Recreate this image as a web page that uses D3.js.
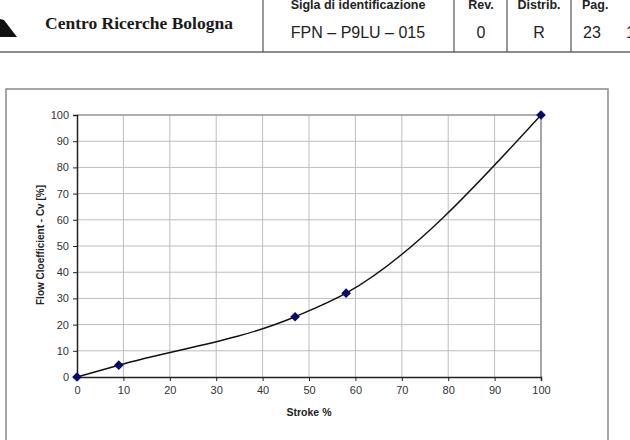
<!DOCTYPE html>
<html>
<head>
<meta charset="utf-8">
<script src="https://cdn.jsdelivr.net/npm/d3@7"></script>
<style>
  body { margin: 0; background: #fff; }
  svg { display: block; }
</style>
</head>
<body>
<svg id="chart" width="630" height="440"></svg>
<script>
// measured points of the valve curve
var strokePct = [0, 9, 47, 58, 100]
var cvPct = [0, 4.5, 23, 32, 100]

// axis ticks
var xTicks = [0, 10, 20, 30, 40, 50, 60, 70, 80, 90, 100]
var yTicks = [0, 10, 20, 30, 40, 50, 60, 70, 80, 90, 100]

// header cells
var headLabels = ["Sigla di identificazione", "Rev.", "Distrib.", "Pag."]
var headValues = ["FPN \u2013 P9LU \u2013 015", "0", "R", "23"]
var headCentres = [358, 481, 539, 0]

var svg = d3.select("#chart")

// page header
svg.append("polygon")
    .attr("points", "0,19 4,20 17,37 0,37")
    .attr("fill", "#111")

svg.append("text")
    .attr("x", 45).attr("y", 29)
    .style("font-family", "'Liberation Serif', 'Times New Roman', serif")
    .style("font-weight", "bold")
    .style("font-size", "17.5px")
    .attr("fill", "#1a1a1a")
    .text("Centro Ricerche Bologna")

svg.append("line")
    .attr("x1", 0).attr("x2", 630).attr("y1", 52).attr("y2", 52)
    .attr("stroke", "#666").attr("stroke-width", 1.5)

;[263, 454, 507, 571].forEach(function(x){
    svg.append("line")
        .attr("x1", x).attr("x2", x).attr("y1", 0).attr("y2", 52)
        .attr("stroke", "#555").attr("stroke-width", 1.2)
})

headLabels.forEach(function(t, i){
    var last = i == headLabels.length - 1
    // labels sit at the top edge, cut off as in the scanned page
    svg.append("text")
        .attr("x", last ? 582 : headCentres[i]).attr("y", 9)
        .attr("text-anchor", last ? "start" : "middle")
        .style("font-family", "'Liberation Sans', Arial, sans-serif")
        .style("font-weight", "bold")
        .style("font-size", "12.5px")
        .attr("fill", "#222")
        .text(t)
    svg.append("text")
        .attr("x", last ? 583 : headCentres[i]).attr("y", 38)
        .attr("text-anchor", last ? "start" : "middle")
        .style("font-family", "'Liberation Sans', Arial, sans-serif")
        .style("font-size", "16px")
        .attr("fill", "#222")
        .text(headValues[i])
})
svg.append("text")
    .attr("x", 626).attr("y", 38)
    .style("font-family", "'Liberation Sans', Arial, sans-serif")
    .style("font-size", "16px")
    .attr("fill", "#222")
    .text("1")

// chart frame
svg.append("rect")
    .attr("x", 6).attr("y", 89).attr("width", 602).attr("height", 360)
    .attr("fill", "none").attr("stroke", "#8a8a8a").attr("stroke-width", 1.5)

// scales
var x = d3.scaleLinear().domain([0, 100]).range([77, 541])
var y = d3.scaleLinear().domain([0, 100]).range([377, 115])

var plot = svg.append("g")

// grid
plot.selectAll(".hgrid").data(yTicks.slice(1)).enter().append("line")
    .attr("x1", x(0)).attr("x2", x(100))
    .attr("y1", function(d){ return y(d) }).attr("y2", function(d){ return y(d) })
    .attr("stroke", "#bdbdbd").attr("stroke-width", 1)
plot.selectAll(".vgrid").data(xTicks.slice(1)).enter().append("line")
    .attr("x1", function(d){ return x(d) }).attr("x2", function(d){ return x(d) })
    .attr("y1", y(0)).attr("y2", y(100))
    .attr("stroke", "#bdbdbd").attr("stroke-width", 1)

// plot border (top and right)
plot.append("path")
    .attr("d", "M" + x(0) + "," + y(100) + "H" + x(100) + "V" + y(0))
    .attr("fill", "none").attr("stroke", "#808080").attr("stroke-width", 1.2)

// axes
var xAxis = plot.append("g")
    .attr("transform", "translate(0," + y(0) + ")")
    .call(d3.axisBottom(x).tickValues(xTicks).tickSize(4).tickPadding(5))
var yAxis = plot.append("g")
    .attr("transform", "translate(" + x(0) + ",0)")
    .call(d3.axisLeft(y).tickValues(yTicks).tickSize(4).tickPadding(4))

;[xAxis, yAxis].forEach(function(a){
    a.select(".domain").attr("stroke", "#222").attr("stroke-width", 1.5)
    a.selectAll(".tick line").attr("stroke", "#222")
    a.selectAll("text")
        .style("font-family", "'Liberation Sans', Arial, sans-serif")
        .style("font-size", "11px")
        .attr("fill", "#333")
})

// axis titles
svg.append("text")
    .attr("x", 309).attr("y", 416)
    .attr("text-anchor", "middle")
    .style("font-family", "'Liberation Sans', Arial, sans-serif")
    .style("font-weight", "bold").style("font-size", "10.5px")
    .attr("fill", "#222")
    .text("Stroke %")

svg.append("text")
    .attr("transform", "translate(44,245) rotate(-90)")
    .attr("text-anchor", "middle")
    .style("font-family", "'Liberation Sans', Arial, sans-serif")
    .style("font-weight", "bold").style("font-size", "10px")
    .attr("fill", "#222")
    .text("Flow Cloefficient - Cv [%]")

// smoothed curve
var pts = strokePct.map(function(s, i){ return [s, cvPct[i]] })
var line = d3.line()
    .x(function(d){ return x(d[0]) })
    .y(function(d){ return y(d[1]) })
    .curve(d3.curveMonotoneX)

plot.append("path")
    .datum(pts)
    .attr("d", line)
    .attr("fill", "none").attr("stroke", "#111").attr("stroke-width", 1.4)

// diamond markers
plot.selectAll(".marker").data(pts).enter().append("path")
    .attr("d", d3.symbol().type(d3.symbolDiamond2).size(60))
    .attr("transform", function(d){ return "translate(" + x(d[0]) + "," + y(d[1]) + ")" })
    .attr("fill", "#0a0a6e")
</script>
</body>
</html>
